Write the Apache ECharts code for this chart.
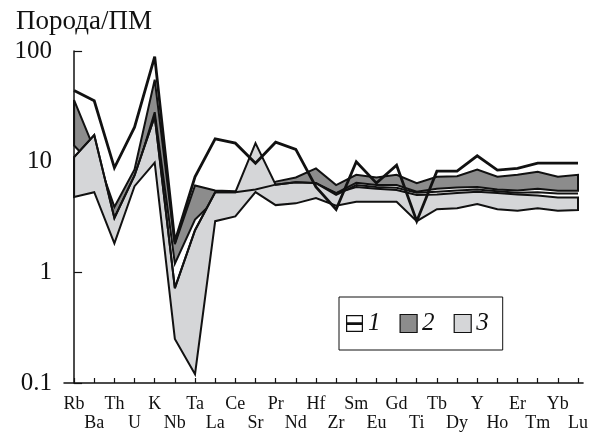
<!DOCTYPE html>
<html>
<head>
<meta charset="utf-8">
<script src="https://cdn.jsdelivr.net/npm/echarts@6/dist/echarts.min.js"></script>
<style>
html,body{margin:0;padding:0;background:#fff;}
#chart{width:591px;height:432px;}
</style>
</head>
<body>
<div id="chart"></div>
<script>
const elements = ['Rb','Ba','Th','U','K','Nb','Ta','La','Ce','Sr','Pr','Nd','Hf','Zr','Sm','Eu','Gd','Ti','Tb','Dy','Y','Ho','Er','Tm','Yb','Lu'];
const yTicks = [0.1, 1, 10, 100];

// Field 1 (white, outlined)
const field1Upper = [44, 35.5, 8.8, 20.5, 89, 1.88, 7.3, 16.1, 14.7, 9.7, 15, 12.9, 5.9, 3.7, 10, 6.4, 9.3, 2.9, 8.2, 8.2, 11.3, 8.4, 8.7, 9.7, 9.7, 9.7];
const field1Lower = [11, 17.4, 3.1, 7.5, 25.6, 0.72, 2.4, 5.3, 5.3, 5.6, 6.2, 6.5, 6.4, 5.0, 6.15, 5.9, 5.8, 5.25, 5.35, 5.5, 5.6, 5.4, 5.25, 5.3, 5.15, 5.15];
// Field 2 (dark grey)
const field2Upper = [36, 13, 3.9, 8.5, 55, 1.8, 6.1, 5.5, 5.4, 6.2, 6.6, 7.2, 8.7, 6.15, 7.6, 7.2, 7.6, 6.4, 7.3, 7.4, 8.5, 7.3, 7.6, 8.1, 7.3, 7.6];
const field2Lower = [14, 9, 3.1, 7.0, 28, 1.2, 3.0, 4.5, 4.8, 5.5, 5.8, 6.0, 6.3, 5.2, 6.45, 6.15, 6.15, 5.35, 5.7, 5.85, 5.9, 5.6, 5.5, 5.7, 5.45, 5.45];
// Field 3 (light grey)
const field3Upper = [11, 17.4, 3.1, 7.5, 25.6, 0.72, 2.4, 5.3, 5.3, 14.7, 6.2, 6.5, 6.4, 5.2, 5.9, 5.7, 5.55, 5.0, 5.05, 5.2, 5.35, 5.2, 5.05, 4.95, 4.75, 4.75];
const field3Lower = [4.8, 5.3, 1.83, 6.0, 9.8, 0.25, 0.12, 2.9, 3.2, 5.3, 4.05, 4.2, 4.7, 4.0, 4.35, 4.35, 4.35, 2.9, 3.72, 3.8, 4.14, 3.72, 3.6, 3.8, 3.6, 3.65];

const idx = elements.map((_, i) => i);
const evenIdx = idx.filter(i => i % 2 === 0);
const oddIdx = idx.filter(i => i % 2 === 1);

function polyRender(upper, lower, fill, lw) {
  return function (params, api) {
    const pts = [];
    for (let i = 0; i < upper.length; i++) pts.push(api.coord([i, upper[i]]));
    for (let i = lower.length - 1; i >= 0; i--) pts.push(api.coord([i, lower[i]]));
    return {
      type: 'polygon',
      shape: { points: pts },
      style: { fill: fill, stroke: '#111', lineWidth: lw, lineJoin: 'miter', miterLimit: 4 }
    };
  };
}

function linesRender(upper, lower, lwUp, lwLow) {
  return function (params, api) {
    const up = upper.map((v, i) => api.coord([i, v]));
    const lo = lower.map((v, i) => api.coord([i, v]));
    return {
      type: 'group',
      children: [
        { type: 'polyline', shape: { points: lo }, style: { fill: 'none', stroke: '#111', lineWidth: lwLow, lineJoin: 'miter', miterLimit: 4 } },
        { type: 'polyline', shape: { points: up }, style: { fill: 'none', stroke: '#111', lineWidth: lwUp, lineJoin: 'miter', miterLimit: 4 } }
      ]
    };
  };
}

const icon1 = 'path://M0,0H18V18H0Z M1.3,1.3V7.6H16.7V1.3Z M1.3,10.6V16.7H16.7V10.6Z';

const serif = 'Liberation Serif';
const labelFmt = function (v) { return elements[Math.round(v)]; };
const labelBase = { fontFamily: serif, fontSize: 18, color: '#111', showMinLabel: true, showMaxLabel: true, hideOverlap: false, formatter: labelFmt };

const chart = echarts.init(document.getElementById('chart'), null, { renderer: 'canvas' });
chart.setOption({
  animation: false,
  backgroundColor: '#fff',
  title: {
    text: 'Порода/ПМ',
    left: 11, top: 3,
    textStyle: { fontFamily: serif, fontSize: 27, fontWeight: 'normal', color: '#111' }
  },
  legend: {
    left: 339, top: 297,
    orient: 'horizontal',
    itemWidth: 17, itemHeight: 18, itemGap: 19,
    padding: [14, 14, 14, 7],
    borderColor: '#111', borderWidth: 1,
    selectedMode: false,
    textStyle: { fontFamily: serif, fontStyle: 'italic', fontSize: 25, color: '#111' },
    data: [
      { name: '1', icon: icon1, itemStyle: { color: '#111', borderWidth: 0 } },
      { name: '2', icon: 'rect', itemStyle: { color: '#8c8c8c', borderColor: '#111', borderWidth: 1.2 } },
      { name: '3', icon: 'rect', itemStyle: { color: '#d5d6d8', borderColor: '#111', borderWidth: 1.2 } }
    ]
  },
  grid: { left: 64, right: 6, top: 51, bottom: 48, containLabel: false },
  xAxis: [
    {
      type: 'value', position: 'bottom',
      min: -0.5, max: 25.25,
      axisLine: { show: true, lineStyle: { color: '#111', width: 1.5 } },
      axisTick: { show: true, inside: true, length: 5, customValues: idx, lineStyle: { color: '#111', width: 1.2 } },
      axisLabel: Object.assign({ customValues: evenIdx, margin: 12 }, labelBase),
      splitLine: { show: false }
    },
    {
      type: 'value', position: 'bottom', offset: 0,
      min: -0.5, max: 25.25,
      axisLine: { show: false },
      axisTick: { show: false },
      axisLabel: Object.assign({ customValues: oddIdx, margin: 31 }, labelBase),
      splitLine: { show: false }
    }
  ],
  yAxis: {
    type: 'log', logBase: 10,
    min: 0.1, max: 100,
    axisLine: { show: true, lineStyle: { color: '#111', width: 1.5 } },
    axisTick: { show: true, inside: true, length: 8, lineStyle: { color: '#111', width: 1.2 } },
    minorTick: { show: false },
    axisLabel: {
      customValues: yTicks,
      showMinLabel: true,
      showMaxLabel: true,
      margin: 12,
      fontFamily: serif, fontSize: 25, color: '#111',
      formatter: function (v) { return v < 1 ? v.toFixed(1) : String(Math.round(v)); }
    },
    splitLine: { show: false }
  },
  series: [
    { name: '2', type: 'custom', xAxisIndex: 0, renderItem: polyRender(field2Upper, field2Lower, '#8c8c8c', 2), data: [[0, 1]], itemStyle: { color: '#8c8c8c' }, silent: true, z: 2 },
    { name: '3', type: 'custom', xAxisIndex: 0, renderItem: polyRender(field3Upper, field3Lower, '#d5d6d8', 2), data: [[0, 1]], itemStyle: { color: '#d5d6d8' }, silent: true, z: 3 },
    { name: '1', type: 'custom', xAxisIndex: 0, renderItem: linesRender(field1Upper, field1Lower, 2.8, 2), data: [[0, 1]], itemStyle: { color: '#111' }, silent: true, z: 4 }
  ]
});
</script>
</body>
</html>
